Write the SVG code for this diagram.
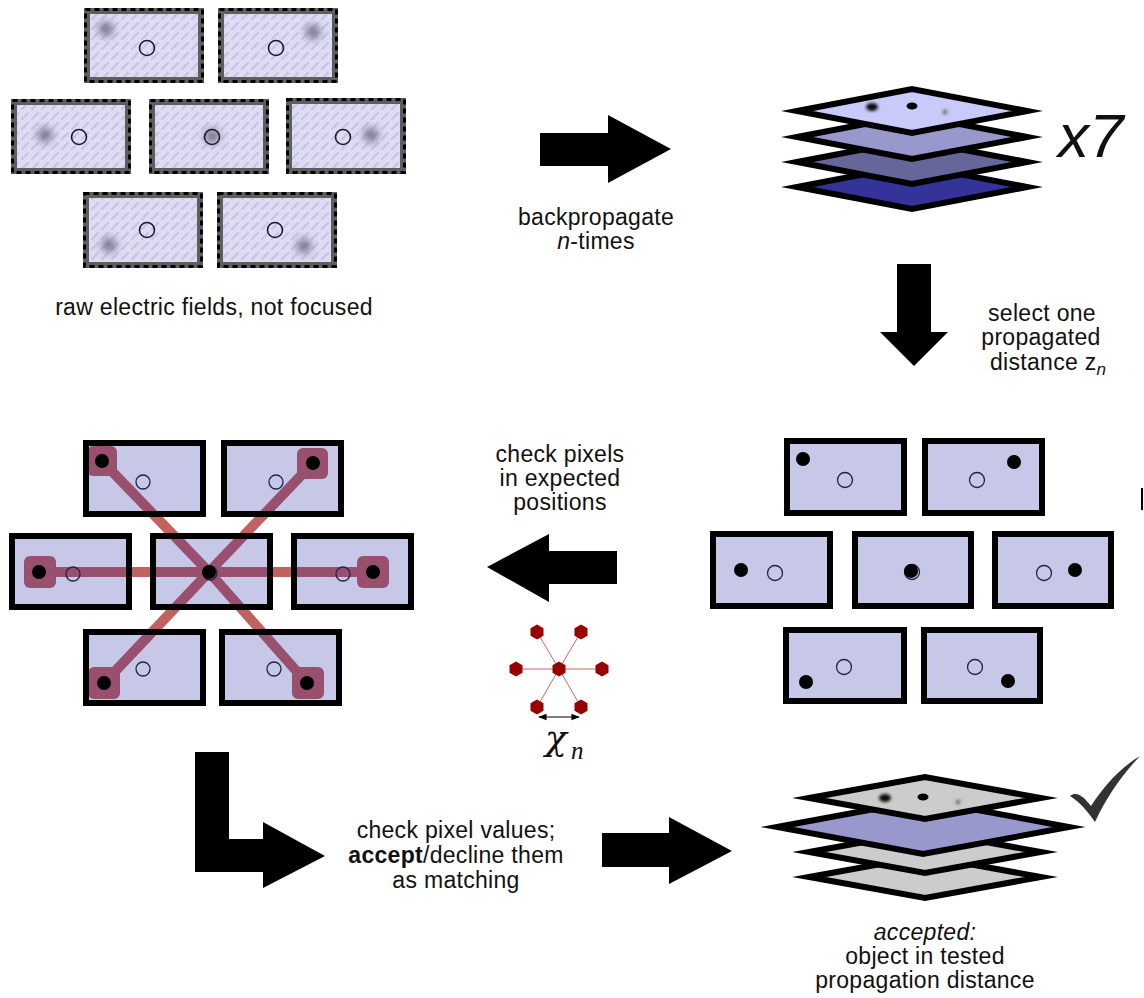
<svg xmlns="http://www.w3.org/2000/svg" width="1144" height="998" viewBox="0 0 1144 998">
  <defs>
    <style>
      .txt { font-family: "Liberation Sans", Arial, sans-serif; font-size: 23px; letter-spacing: 0.3px; fill: #111; }
      .it { font-style: italic; }
      .raw-fill { fill: url(#hatch); stroke: #5e5e5e; stroke-width: 6; }
      .raw-dash { fill: none; stroke: #000; stroke-width: 3; stroke-dasharray: 5 4; }
      .ring { fill: none; stroke: #1a1a2e; stroke-width: 1.6; }
      .ring-lt { fill: none; stroke: #22224a; stroke-width: 1.3; }
      .panel { fill: #c7c7e7; stroke: #000; stroke-width: 6; }
      .panel-border { fill: none; stroke: #000; stroke-width: 6; }
      .dot { fill: #000; }
      .layer { stroke: #000; stroke-width: 6; stroke-linejoin: miter; stroke-miterlimit: 12; }
      .hex { fill: #990000; }
      .arrow { fill: #000; }
    </style>
    <pattern id="hatch" width="10" height="10" patternUnits="userSpaceOnUse">
      <rect width="10" height="10" fill="#dddcf1"/>
      <line x1="2" y1="9" x2="8" y2="3" stroke="#c4c4ea" stroke-width="2.2" stroke-linecap="round"/>
    </pattern>
    <filter id="blurSpot" x="-100%" y="-100%" width="300%" height="300%">
      <feGaussianBlur stdDeviation="4"/>
    </filter>
    <filter id="blurSmall" x="-100%" y="-100%" width="300%" height="300%">
      <feGaussianBlur stdDeviation="1.5"/>
    </filter>
    <clipPath id="panelClip">
      <rect x="86" y="443" width="117" height="71"/>
      <rect x="224" y="443" width="117" height="71"/>
      <rect x="12" y="536" width="117" height="71"/>
      <rect x="153" y="536" width="117" height="71"/>
      <rect x="294" y="536" width="117" height="71"/>
      <rect x="86" y="632" width="117" height="71"/>
      <rect x="222" y="632" width="117" height="71"/>
    </clipPath>
    <marker id="tick" viewBox="0 0 10 10" refX="9" refY="5" markerWidth="7" markerHeight="7" orient="auto-start-reverse">
      <path d="M0,1 L10,5 L0,9 Z" fill="#000"/>
    </marker>
  </defs>

  <rect width="1144" height="998" fill="#fff"/>

  <!-- raw, unfocused fields -->
  <g id="raw-fields">
    <g id="raw-1">
      <rect class="raw-fill" x="87" y="11" width="114" height="69"/>
      <rect class="raw-dash" x="85.5" y="9.5" width="117" height="72"/>
      <circle cx="106" cy="29" r="7" fill="#6a6a82" filter="url(#blurSpot)"/>
      <circle class="ring" cx="147" cy="48" r="7.5"/>
    </g>
    <g id="raw-2">
      <rect class="raw-fill" x="221" y="11" width="114" height="69"/>
      <rect class="raw-dash" x="219.5" y="9.5" width="117" height="72"/>
      <circle cx="313" cy="32" r="7" fill="#6a6a82" filter="url(#blurSpot)"/>
      <circle class="ring" cx="276" cy="48" r="7.5"/>
    </g>
    <g id="raw-3">
      <rect class="raw-fill" x="14" y="102" width="114" height="69"/>
      <rect class="raw-dash" x="12.5" y="100.5" width="117" height="72"/>
      <circle cx="45" cy="135" r="7" fill="#6a6a82" filter="url(#blurSpot)"/>
      <circle class="ring" cx="79" cy="137" r="7.5"/>
    </g>
    <g id="raw-4">
      <rect class="raw-fill" x="152" y="102" width="114" height="69"/>
      <rect class="raw-dash" x="150.5" y="100.5" width="117" height="72"/>
      <circle cx="212" cy="136" r="7" fill="#6a6a82" filter="url(#blurSpot)"/>
      <circle class="ring" cx="212" cy="137" r="7.5"/>
    </g>
    <g id="raw-5">
      <rect class="raw-fill" x="289" y="101" width="114" height="70"/>
      <rect class="raw-dash" x="287.5" y="99.5" width="117" height="73"/>
      <circle cx="371" cy="135" r="7" fill="#6a6a82" filter="url(#blurSpot)"/>
      <circle class="ring" cx="343" cy="137" r="7.5"/>
    </g>
    <g id="raw-6">
      <rect class="raw-fill" x="86" y="195" width="114" height="70"/>
      <rect class="raw-dash" x="84.5" y="193.5" width="117" height="73"/>
      <circle cx="109" cy="245" r="7" fill="#6a6a82" filter="url(#blurSpot)"/>
      <circle class="ring" cx="147" cy="230" r="7.5"/>
    </g>
    <g id="raw-7">
      <rect class="raw-fill" x="220" y="195" width="114" height="70"/>
      <rect class="raw-dash" x="218.5" y="193.5" width="117" height="73"/>
      <circle cx="304" cy="246" r="7" fill="#6a6a82" filter="url(#blurSpot)"/>
      <circle class="ring" cx="275" cy="230" r="7.5"/>
    </g>
    <text class="txt" x="214" y="315" text-anchor="middle">raw electric fields, not focused</text>
  </g>

  <!-- stack of backpropagated planes -->
  <g id="plane-stack">
    <polygon class="layer" fill="#333399" points="797,187 912,165 1027,187 912,209"/>
    <polygon class="layer" fill="#666699" points="797,162 912,140 1027,162 912,184"/>
    <polygon class="layer" fill="#9898cc" points="797,137 912,115 1027,137 912,159"/>
    <polygon class="layer" fill="#c9c9fa" points="797,111 912,89 1027,111 912,133"/>
    <ellipse cx="872" cy="107" rx="6" ry="4" fill="#111" filter="url(#blurSmall)"/>
    <ellipse cx="912" cy="106" rx="5.5" ry="3.5" fill="#000"/>
    <circle cx="945" cy="112" r="2.5" fill="#777" filter="url(#blurSmall)"/>
    <text class="txt it" x="1058" y="157" style="font-size:62px;letter-spacing:0">x7</text>
  </g>

  <!-- selected distance, detected spots -->
  <g id="selected-fields">
    <g id="sel-1">
      <rect class="panel" x="787" y="441" width="117" height="72"/>
      <circle class="ring-lt" cx="845" cy="480" r="7.5"/>
      <circle class="dot" cx="803" cy="459" r="7"/>
    </g>
    <g id="sel-2">
      <rect class="panel" x="925" y="441" width="117" height="72"/>
      <circle class="ring-lt" cx="977" cy="480" r="7.5"/>
      <circle class="dot" cx="1014" cy="462" r="7"/>
    </g>
    <g id="sel-3">
      <rect class="panel" x="713" y="534" width="117" height="72"/>
      <circle class="ring-lt" cx="775" cy="573" r="7.5"/>
      <circle class="dot" cx="741" cy="570" r="7"/>
    </g>
    <g id="sel-4">
      <rect class="panel" x="855" y="534" width="116" height="72"/>
      <circle class="ring-lt" cx="912" cy="572" r="7.5"/>
      <circle class="dot" cx="911" cy="571" r="7"/>
    </g>
    <g id="sel-5">
      <rect class="panel" x="995" y="534" width="116" height="72"/>
      <circle class="ring-lt" cx="1044" cy="573" r="7.5"/>
      <circle class="dot" cx="1075" cy="570" r="7"/>
    </g>
    <g id="sel-6">
      <rect class="panel" x="786" y="630" width="118" height="71"/>
      <circle class="ring-lt" cx="844" cy="667" r="7.5"/>
      <circle class="dot" cx="806" cy="682" r="7"/>
    </g>
    <g id="sel-7">
      <rect class="panel" x="924" y="630" width="116" height="71"/>
      <circle class="ring-lt" cx="975" cy="667" r="7.5"/>
      <circle class="dot" cx="1008" cy="681" r="7"/>
    </g>
    <line x1="1142" y1="488" x2="1142" y2="510" stroke="#000" stroke-width="2"/>
  </g>

  <!-- pixel check in expected positions -->
  <g id="checked-fields">
    <g id="links-outside" stroke="#c2625e" stroke-width="10" stroke-linecap="butt">
      <line x1="209" y1="572" x2="102" y2="461"/>
      <line x1="209" y1="572" x2="313" y2="463"/>
      <line x1="209" y1="572" x2="39" y2="572"/>
      <line x1="209" y1="572" x2="373" y2="572"/>
      <line x1="209" y1="572" x2="104" y2="683"/>
      <line x1="209" y1="572" x2="307" y2="683"/>
    </g>
    <rect x="86" y="443" width="117" height="71" fill="#c7c7e7"/>
    <rect x="224" y="443" width="117" height="71" fill="#c7c7e7"/>
    <rect x="12" y="536" width="117" height="71" fill="#c7c7e7"/>
    <rect x="153" y="536" width="117" height="71" fill="#c7c7e7"/>
    <rect x="294" y="536" width="117" height="71" fill="#c7c7e7"/>
    <rect x="86" y="632" width="117" height="71" fill="#c7c7e7"/>
    <rect x="222" y="632" width="117" height="71" fill="#c7c7e7"/>
    <g id="links-inside" clip-path="url(#panelClip)" fill="#994f6e">
      <g stroke="#994f6e" stroke-width="10">
        <line x1="209" y1="572" x2="102" y2="461"/>
        <line x1="209" y1="572" x2="313" y2="463"/>
        <line x1="209" y1="572" x2="39" y2="572"/>
        <line x1="209" y1="572" x2="373" y2="572"/>
        <line x1="209" y1="572" x2="104" y2="683"/>
        <line x1="209" y1="572" x2="307" y2="683"/>
      </g>
      <rect x="87" y="446" width="30" height="30" rx="6"/>
      <rect x="297" y="448" width="31" height="31" rx="6"/>
      <rect x="24" y="556" width="32" height="32" rx="6"/>
      <rect x="357" y="556" width="32" height="32" rx="6"/>
      <rect x="88" y="667" width="32" height="32" rx="6"/>
      <rect x="292" y="667" width="32" height="32" rx="6"/>
    </g>
    <g id="chk-1">
      <rect class="panel-border" x="86" y="443" width="117" height="71"/>
      <circle class="ring-lt" cx="143" cy="482" r="7"/>
      <circle class="dot" cx="102" cy="461" r="7"/>
    </g>
    <g id="chk-2">
      <rect class="panel-border" x="224" y="443" width="117" height="71"/>
      <circle class="ring-lt" cx="276" cy="482" r="7"/>
      <circle class="dot" cx="313" cy="463" r="7"/>
    </g>
    <g id="chk-3">
      <rect class="panel-border" x="12" y="536" width="117" height="71"/>
      <circle class="ring-lt" cx="73" cy="574" r="7"/>
      <circle class="dot" cx="39" cy="572" r="7"/>
    </g>
    <g id="chk-4">
      <rect class="panel-border" x="153" y="536" width="117" height="71"/>
      <circle class="ring-lt" cx="210" cy="573" r="7"/>
      <circle class="dot" cx="209" cy="572" r="7"/>
    </g>
    <g id="chk-5">
      <rect class="panel-border" x="294" y="536" width="117" height="71"/>
      <circle class="ring-lt" cx="343" cy="574" r="7"/>
      <circle class="dot" cx="373" cy="572" r="7"/>
    </g>
    <g id="chk-6">
      <rect class="panel-border" x="86" y="632" width="117" height="71"/>
      <circle class="ring-lt" cx="143" cy="669" r="7"/>
      <circle class="dot" cx="104" cy="683" r="7"/>
    </g>
    <g id="chk-7">
      <rect class="panel-border" x="222" y="632" width="117" height="71"/>
      <circle class="ring-lt" cx="274" cy="669" r="7"/>
      <circle class="dot" cx="307" cy="683" r="7"/>
    </g>
  </g>

  <!-- hexagonal neighbourhood with spacing chi_n -->
  <g id="hex-pattern">
    <g stroke="#d06464" stroke-width="1">
      <line x1="559" y1="669" x2="537" y2="632"/>
      <line x1="559" y1="669" x2="581" y2="632"/>
      <line x1="559" y1="669" x2="516" y2="669"/>
      <line x1="559" y1="669" x2="602" y2="669"/>
      <line x1="559" y1="669" x2="537" y2="707"/>
      <line x1="559" y1="669" x2="581" y2="707"/>
    </g>
    <polygon class="hex" points="559,661.5 565.5,665.2 565.5,672.8 559,676.5 552.5,672.8 552.5,665.2"/>
    <polygon class="hex" points="537,624.5 543.5,628.2 543.5,635.8 537,639.5 530.5,635.8 530.5,628.2"/>
    <polygon class="hex" points="581,624.5 587.5,628.2 587.5,635.8 581,639.5 574.5,635.8 574.5,628.2"/>
    <polygon class="hex" points="516,661.5 522.5,665.2 522.5,672.8 516,676.5 509.5,672.8 509.5,665.2"/>
    <polygon class="hex" points="602,661.5 608.5,665.2 608.5,672.8 602,676.5 595.5,672.8 595.5,665.2"/>
    <polygon class="hex" points="537,699.5 543.5,703.2 543.5,710.8 537,714.5 530.5,710.8 530.5,703.2"/>
    <polygon class="hex" points="581,699.5 587.5,703.2 587.5,710.8 581,714.5 574.5,710.8 574.5,703.2"/>
    <line x1="539" y1="717" x2="579" y2="717" stroke="#000" stroke-width="1.2" marker-start="url(#tick)" marker-end="url(#tick)"/>
    <text x="545" y="750" style="font-family:'DejaVu Serif','Liberation Serif',serif;font-size:36px;font-style:italic;fill:#111">χ</text>
    <text x="571" y="759" style="font-family:'Liberation Serif','DejaVu Serif',serif;font-size:25px;font-style:italic;fill:#111">n</text>
  </g>

  <!-- accepted stack -->
  <g id="accepted-stack">
    <polygon class="layer" fill="#cccccc" points="809,877 925,856 1041,877 925,898"/>
    <polygon class="layer" fill="#cccccc" points="809,852 925,831 1041,852 925,873"/>
    <polygon class="layer" fill="#9898cc" points="777,827 923,800 1069,827 923,854"/>
    <polygon class="layer" fill="#cccccc" points="809,798 925,777 1041,798 925,819"/>
    <ellipse cx="885" cy="798" rx="6" ry="4" fill="#111" filter="url(#blurSmall)"/>
    <ellipse cx="923" cy="797" rx="5.5" ry="3.5" fill="#000"/>
    <circle cx="958" cy="802" r="2.5" fill="#777" filter="url(#blurSmall)"/>
    <text class="txt" text-anchor="middle"><tspan class="it" x="925" y="940">accepted:</tspan><tspan x="925" y="964">object in tested</tspan><tspan x="925" y="988">propagation distance</tspan></text>
  </g>

  <!-- check mark -->
  <g id="checkmark">
    <path d="M1070,796 C1077,790 1085,798 1091,806 C1104,786 1120,768 1140,756 C1122,775 1106,798 1095,822 C1088,812 1080,802 1070,796 Z" fill="#333"/>
  </g>

  <!-- step arrows and their labels -->
  <g id="connectors">
    <polygon class="arrow" points="540,133 608,133 608,115 671,149 608,183 608,166 540,166"/>
    <polygon class="arrow" points="897,264 931,264 931,332 948,332 914,366 880,332 897,332"/>
    <polygon class="arrow" points="617,551 549,551 549,534 487,567 549,602 549,584 617,584"/>
    <polygon class="arrow" points="195,752 229,752 229,839 263,839 263,822 325,856 263,888 263,872 195,872"/>
    <polygon class="arrow" points="602,833 669,833 669,817 732,851 669,884 669,867 602,867"/>
    <text class="txt" text-anchor="middle"><tspan x="596" y="225">backpropagate</tspan><tspan x="596" y="249"><tspan class="it">n</tspan>-times</tspan></text>
    <text class="txt" text-anchor="middle"><tspan x="1042" y="321">select one</tspan><tspan x="1041" y="345">propagated</tspan></text>
    <text class="txt" x="990" y="370">distance z<tspan class="it" dy="5" style="font-size:17px">n</tspan></text>
    <text class="txt" text-anchor="middle"><tspan x="560" y="462">check pixels</tspan><tspan x="560" y="486">in expected</tspan><tspan x="560" y="510">positions</tspan></text>
    <text class="txt" text-anchor="middle"><tspan x="456" y="838">check pixel values;</tspan><tspan x="456" y="863"><tspan font-weight="bold">accept</tspan>/decline them</tspan><tspan x="456" y="888">as matching</tspan></text>
  </g>
</svg>
